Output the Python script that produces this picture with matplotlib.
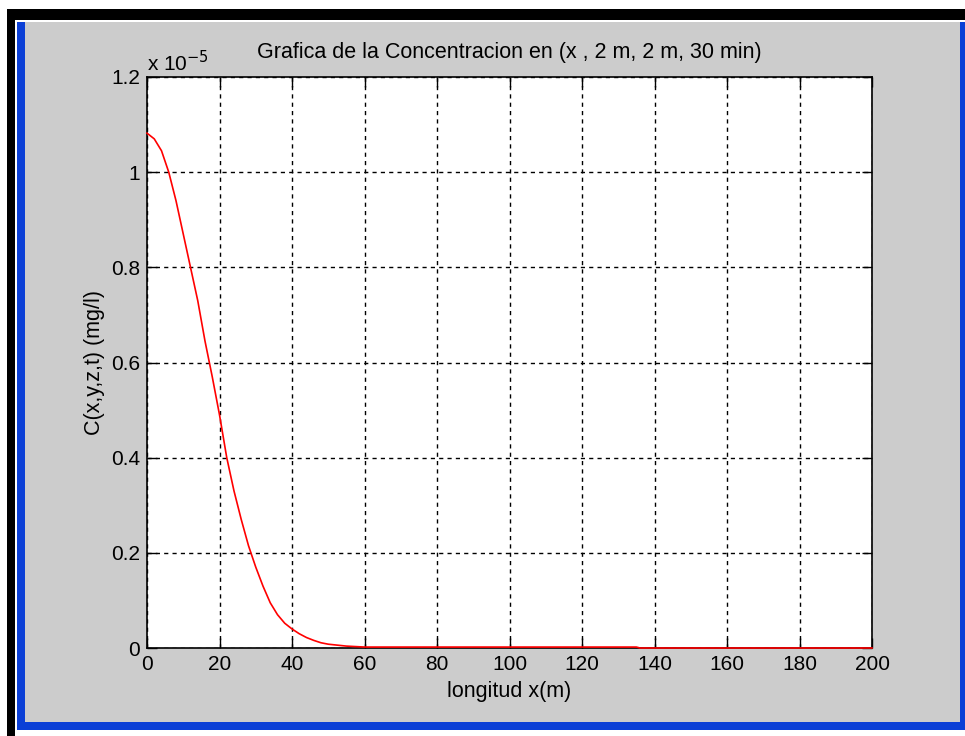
import matplotlib.pyplot as plt
from matplotlib.patches import Rectangle

# concentracion a lo largo de x (y=2 m, z=2 m, t=30 min)
x_m = [0, 2, 4, 6, 8, 10, 12, 14, 16, 18, 20, 22, 24, 26, 28, 30,
       32, 34, 36, 38, 40, 42, 44, 46, 48, 50, 55, 60, 80, 100, 135, 136, 200]
conc = [1.082, 1.07, 1.045, 1.0, 0.94, 0.87, 0.80, 0.73, 0.645, 0.57, 0.49,
        0.40, 0.33, 0.27, 0.215, 0.17, 0.13, 0.095, 0.07, 0.052, 0.04,
        0.03, 0.022, 0.016, 0.011, 0.008, 0.004, 0.002, 0.002, 0.002,
        0.002, 0.0, 0.0]
conc = [c * 1e-5 for c in conc]

W, H = 965, 736
fig = plt.figure(figsize=(W / 100, H / 100), dpi=100, facecolor='white')
plt.rcParams['font.family'] = ['Liberation Sans', 'DejaVu Sans']


def box(x0, y0, x1, y1, color):
    fig.add_artist(Rectangle((x0 / W, 1 - y1 / H), (x1 - x0) / W, (y1 - y0) / H,
                             transform=fig.transFigure, facecolor=color,
                             edgecolor='none', zorder=-10))


# marco de la ventana
box(7, 9, 965, 736, 'black')
box(15, 20, 965, 736, 'white')
box(17, 22, 965, 730, '#0b3fd6')
box(25, 22, 960, 722, '#cccccc')

ax = fig.add_axes([147 / W, 1 - 648 / H, 725 / W, 571 / H])
ax.set_facecolor('white')
ax.plot(x_m, conc, color='red', lw=1.2, zorder=5, clip_on=False)

ax.set_xlim(0, 200)
ax.set_ylim(0, 1.2e-5)
ax.set_xticks(range(0, 201, 20))
ax.set_yticks([i * 0.2e-5 for i in range(7)])
ax.set_yticklabels(['0', '0.2', '0.4', '0.6', '0.8', '1', '1.2'])
ax.tick_params(direction='in', length=7, width=1, top=True, right=True,
               labelsize=15, pad=5, colors='black')
ax.grid(True, color='black', linestyle=(0, (3, 3)), lw=1)
for s in ax.spines.values():
    s.set_linewidth(1.2)

ax.text(0, 1.004, r'x 10$^{-5}$', transform=ax.transAxes, fontsize=15,
        ha='left', va='bottom')
ax.set_title('Grafica de la Concentracion en (x , 2 m, 2 m, 30 min)',
             fontsize=15.5, pad=14)
ax.set_xlabel('longitud x(m)', fontsize=15.5, labelpad=5)
ax.set_ylabel('C(x,y,z,t) (mg/l)', fontsize=15.5, labelpad=4)

fig.savefig('out.png', dpi=100)
